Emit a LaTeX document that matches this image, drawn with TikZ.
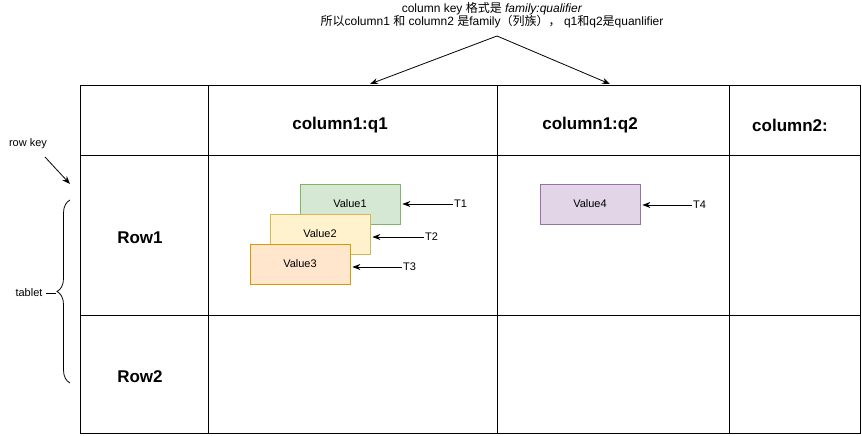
\documentclass[tikz,border=0pt]{standalone}
\usepackage{fontspec}
\setmainfont{Liberation Sans}
\newfontfamily\cjk{Noto Sans CJK SC}
\usetikzlibrary{arrows.meta,decorations.pathreplacing}
\begin{document}
\begin{tikzpicture}[x=1pt,y=-1pt,
  grid/.style={line width=1pt,draw=black},
  head/.style={font=\fontsize{17}{20}\selectfont\bfseries},
  lbl/.style={font=\fontsize{11}{13}\selectfont},
  notefont/.style={font=\fontsize{12}{14}\selectfont},
  val/.style={draw,line width=0.8pt,minimum width=100pt,minimum height=40pt,font=\fontsize{11}{13}\selectfont,inner sep=0pt},
  arr/.style={-{Stealth[length=8pt,width=6pt]},line width=0.8pt}]
\useasboundingbox (0,0) rectangle (862,436);
% table
\draw[grid] (80,85) rectangle (860,433);
\draw[grid] (208,85) -- (208,433);
\draw[grid] (497,85) -- (497,433);
\draw[grid] (729,85) -- (729,433);
\draw[grid] (80,155) -- (860,155);
\draw[grid] (80,315) -- (860,315);
% headers
\node[head] (h1) at (340,125) {column1:q1};
\node[head] (h2) at (590,125) {column1:q2};
\node[head] (h3) at (790,125) {column2:};
\node[head] (r1) at (140,238) {Row1};
\node[head] (r2) at (140,377) {Row2};
% values
\node[val,fill={rgb,255:red,213;green,232;blue,212},draw={rgb,255:red,130;green,179;blue,102}] (v1) at (350,204) {Value1};
\node[val,fill={rgb,255:red,255;green,242;blue,204},draw={rgb,255:red,214;green,182;blue,86}] (v2) at (320,234) {Value2};
\node[val,fill={rgb,255:red,255;green,230;blue,204},draw={rgb,255:red,215;green,155;blue,0}] (v3) at (300,264) {Value3};
\node[val,fill={rgb,255:red,225;green,213;blue,231},draw={rgb,255:red,150;green,115;blue,166}] (v4) at (590,204) {Value4};
% time labels
\node[lbl,anchor=west,inner sep=1pt] (t1) at (453,204) {T1};
\node[lbl,anchor=west,inner sep=1pt] (t2) at (424,237) {T2};
\node[lbl,anchor=west,inner sep=1pt] (t3) at (402,267) {T3};
\node[lbl,anchor=west,inner sep=1pt] (t4) at (692,205) {T4};
\draw[arr] (t1.west) -- ([xshift=2pt]v1.east |- t1.west);
\draw[arr] (t2.west) -- ([xshift=2pt]v2.east |- t2.west);
\draw[arr] (t3.west) -- ([xshift=2pt]v3.east |- t3.west);
\draw[arr] (t4.west) -- ([xshift=2pt]v4.east |- t4.west);
% top note
\node[notefont,align=center,inner sep=1pt] (note) at (492,15) {column key {\cjk 格式是} \textit{family:qualifier}\\[-1pt]{\cjk 所以}column1 {\cjk 和} column2 {\cjk 是}family{\cjk （列族），} q1{\cjk 和}q2{\cjk 是}quanlifier};
\coordinate (ntip) at (497,36);
\coordinate (c1) at (370,84);
\coordinate (c2) at (610,84);
\draw[arr] (ntip) -- (c1);
\draw[arr] (ntip) -- (c2);
% row key
\node[lbl] (rk) at (28,144) {row key};
\coordinate (rkstart) at (45,157);
\coordinate (rkend) at (70,184);
\draw[arr] (rkstart) -- (rkend);
% tablet brace
\coordinate (bb) at (70,383);
\coordinate (bt) at (70,200);
\draw[line width=0.8pt,decoration={brace,amplitude=13pt,aspect=0.5},decorate] (bb) -- (bt);
\node[lbl,anchor=east] (tab) at (46,293) {tablet};
\draw[line width=0.8pt] (tab.east) -- (56,293);
\end{tikzpicture}
\end{document}
